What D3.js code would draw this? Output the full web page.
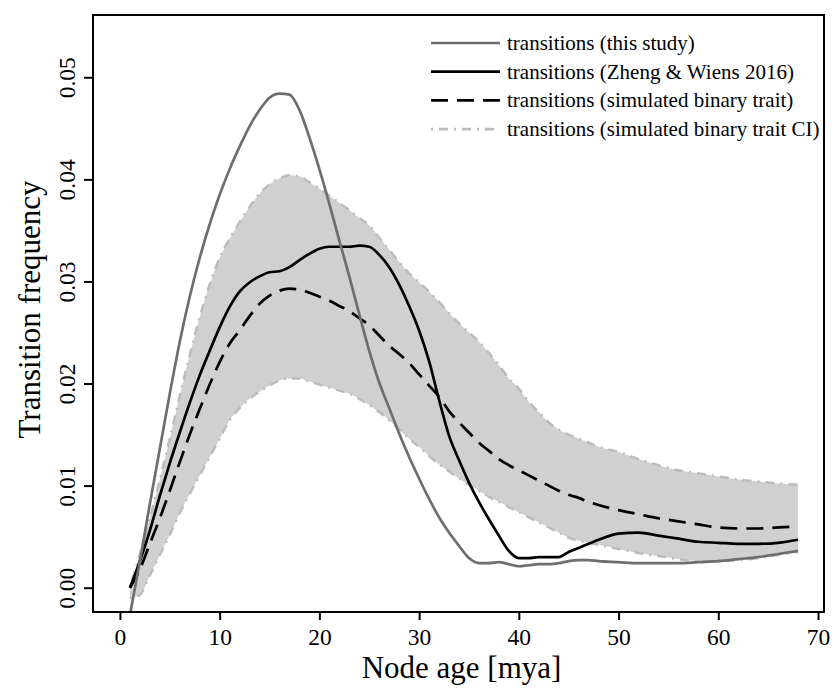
<!DOCTYPE html>
<html>
<head>
<meta charset="utf-8">
<script src="https://cdn.jsdelivr.net/npm/d3@7"></script>
<style>
    body { margin: 0; background: #fff; }
    svg { display: block; font-family: "Liberation Serif", "Times New Roman", serif; }
</style>
</head>
<body>
<svg width="832" height="691"></svg>
<script>

// node ages (mya) at which the curves are sampled
var ages = [1, 2, 3, 4, 5, 6, 7, 8, 9, 10, 11, 12, 13, 14, 15, 16, 17, 18, 19, 20,
    21, 22, 23, 24, 25, 26, 27, 28, 29, 30, 31, 32, 33, 34, 35, 36, 37, 38, 39, 40,
    41, 42, 43, 44, 45, 46, 47, 48, 50, 52, 54, 56, 58, 60, 62, 64, 66, 68];

// transitions (this study)
var thisStudy = [-0.0027, 0.0026, 0.0082, 0.0136, 0.0190, 0.0241, 0.0285, 0.0323, 0.0356, 0.0385,
    0.0410, 0.0432, 0.0452, 0.0468, 0.0480, 0.0484, 0.0483, 0.0468, 0.0441, 0.0410,
    0.0376, 0.0340, 0.0305, 0.0268, 0.0232, 0.0201, 0.0176, 0.0151, 0.0128, 0.0107,
    0.0087, 0.0069, 0.0054, 0.0041, 0.0029, 0.0024, 0.0024, 0.0025, 0.0023, 0.0021,
    0.0022, 0.0023, 0.0023, 0.0024, 0.0026, 0.0027, 0.0027, 0.0026, 0.0025, 0.0024,
    0.0024, 0.0024, 0.0025, 0.0026, 0.0028, 0.0030, 0.0033, 0.0036];

// transitions (Zheng & Wiens 2016)
var zhengWiens = [0.0000, 0.0026, 0.0056, 0.0090, 0.0122, 0.0152, 0.0181, 0.0208, 0.0232, 0.0255,
    0.0275, 0.0290, 0.0299, 0.0305, 0.0309, 0.0310, 0.0314, 0.0321, 0.0327, 0.0332,
    0.0334, 0.0334, 0.0334, 0.0335, 0.0334, 0.0326, 0.0314, 0.0297, 0.0276, 0.0252,
    0.0222, 0.0184, 0.0149, 0.0125, 0.0103, 0.0084, 0.0067, 0.0051, 0.0036, 0.0029,
    0.0029, 0.0030, 0.0030, 0.0030, 0.0035, 0.0039, 0.0043, 0.0047, 0.0053, 0.0054,
    0.0051, 0.0048, 0.0045, 0.0044, 0.0043, 0.0043, 0.0044, 0.0047];

// transitions (simulated binary trait), mean
var simulated = [0.0000, 0.0018, 0.0043, 0.0068, 0.0095, 0.0123, 0.0150, 0.0175, 0.0199, 0.0221,
    0.0239, 0.0252, 0.0266, 0.0278, 0.0286, 0.0291, 0.0293, 0.0292, 0.0289, 0.0285,
    0.0281, 0.0276, 0.0271, 0.0264, 0.0257, 0.0247, 0.0237, 0.0229, 0.0220, 0.0209,
    0.0198, 0.0187, 0.0173, 0.0162, 0.0152, 0.0142, 0.0134, 0.0126, 0.0120, 0.0115,
    0.0110, 0.0105, 0.0100, 0.0095, 0.0091, 0.0088, 0.0084, 0.0081, 0.0076, 0.0072,
    0.0068, 0.0065, 0.0062, 0.0059, 0.0058, 0.0058, 0.0059, 0.0060];

// simulated binary trait CI, upper and lower
var ciUpper = [0.0000, 0.0033, 0.0068, 0.0106, 0.0146, 0.0188, 0.0228, 0.0265, 0.0297, 0.0323,
    0.0342, 0.0358, 0.0373, 0.0386, 0.0395, 0.0401, 0.0404, 0.0403, 0.0397, 0.0391,
    0.0384, 0.0377, 0.0370, 0.0362, 0.0355, 0.0343, 0.0331, 0.0319, 0.0308, 0.0299,
    0.0290, 0.0280, 0.0269, 0.0259, 0.0250, 0.0241, 0.0230, 0.0218, 0.0205, 0.0195,
    0.0182, 0.0172, 0.0162, 0.0155, 0.0150, 0.0146, 0.0142, 0.0138, 0.0133, 0.0126,
    0.0120, 0.0115, 0.0112, 0.0109, 0.0106, 0.0104, 0.0102, 0.0101];

var ciLower = [-0.0010, -0.0007, 0.0012, 0.0032, 0.0052, 0.0073, 0.0092, 0.0110, 0.0128, 0.0146,
    0.0164, 0.0176, 0.0185, 0.0192, 0.0198, 0.0203, 0.0205, 0.0205, 0.0202, 0.0199,
    0.0196, 0.0193, 0.0190, 0.0185, 0.0179, 0.0172, 0.0164, 0.0155, 0.0146, 0.0138,
    0.0129, 0.0121, 0.0114, 0.0107, 0.0101, 0.0095, 0.0089, 0.0084, 0.0079, 0.0074,
    0.0069, 0.0064, 0.0059, 0.0054, 0.0049, 0.0046, 0.0044, 0.0042, 0.0038, 0.0034,
    0.0031, 0.0028, 0.0026, 0.0026, 0.0027, 0.0029, 0.0032, 0.0035];

var xTicks = [0, 10, 20, 30, 40, 50, 60, 70];
var yTicks = [0, 0.01, 0.02, 0.03, 0.04, 0.05];

var legendLabels = [
    "transitions (this study)",
    "transitions (Zheng & Wiens 2016)",
    "transitions (simulated binary trait)",
    "transitions (simulated binary trait CI)"
];

var svg = d3.select("svg"),
    box = {left: 93, top: 15, right: 824, bottom: 612};

// scales
var x = d3.scaleLinear()
    .domain([-2.7, 70.6])
    .range([box.left, box.right]);

var y = d3.scaleLinear()
    .domain([-0.00238, 0.0561])
    .range([box.bottom, box.top]);

// clip to the plotting region
svg.append("clipPath")
    .attr("id", "plotclip")
    .append("rect")
    .attr("x", box.left)
    .attr("y", box.top)
    .attr("width", box.right - box.left)
    .attr("height", box.bottom - box.top);

var plot = svg.append("g").attr("clip-path", "url(#plotclip)");

// CI band
var band = d3.area()
    .x(function (d, i) { return x(ages[i]); })
    .y0(function (d, i) { return y(ciLower[i]); })
    .y1(function (d, i) { return y(ciUpper[i]); })
    .curve(d3.curveMonotoneX);

plot.append("path")
    .datum(ages)
    .attr("d", band)
    .attr("fill", "#d0d0d0");

function lineOf(values) {
    return d3.line()
        .x(function (d, i) { return x(ages[i]); })
        .y(function (d) { return y(d); })
        .curve(d3.curveMonotoneX)(values);
}

// CI borders, dot-dash
[ciUpper, ciLower].forEach(function (v) {
    plot.append("path")
        .attr("d", lineOf(v))
        .attr("fill", "none")
        .attr("stroke", "#bcbcbc")
        .attr("stroke-width", 2.5)
        .attr("stroke-dasharray", "2,6,9,6");
});

// simulated mean, dashed
plot.append("path")
    .attr("d", lineOf(simulated))
    .attr("fill", "none")
    .attr("stroke", "#000")
    .attr("stroke-width", 2.7)
    .attr("stroke-dasharray", "17,9");

// Zheng & Wiens
plot.append("path")
    .attr("d", lineOf(zhengWiens))
    .attr("fill", "none")
    .attr("stroke", "#000")
    .attr("stroke-width", 2.7);

// this study
plot.append("path")
    .attr("d", lineOf(thisStudy))
    .attr("fill", "none")
    .attr("stroke", "#6e6e6e")
    .attr("stroke-width", 2.7);

// x axis
var xAxis = svg.append("g")
    .attr("transform", "translate(0," + box.bottom + ")")
    .call(d3.axisBottom(x).tickValues(xTicks).tickSize(8).tickSizeOuter(0).tickPadding(8));

// y axis, labels turned like R's default
var yAxis = svg.append("g")
    .attr("transform", "translate(" + box.left + ",0)")
    .call(d3.axisLeft(y).tickValues(yTicks).tickSize(9).tickSizeOuter(0).tickFormat(d3.format(".2f")));

[xAxis, yAxis].forEach(function (a) {
    a.select(".domain").remove();
    a.selectAll(".tick line").attr("stroke", "#000").attr("stroke-width", 2);
    a.selectAll(".tick text")
        .attr("fill", "#000")
        .style("font-family", "Liberation Serif")
        .style("font-size", "23.5px");
});

xAxis.selectAll(".tick text").attr("dy", "0.71em");

yAxis.selectAll(".tick text")
    .attr("x", null)
    .attr("dy", null)
    .attr("text-anchor", "middle")
    .attr("transform", "translate(-18,0) rotate(-90)");

// box
svg.append("rect")
    .attr("x", box.left)
    .attr("y", box.top)
    .attr("width", box.right - box.left)
    .attr("height", box.bottom - box.top)
    .attr("fill", "none")
    .attr("stroke", "#000")
    .attr("stroke-width", 2);

// axis titles
svg.append("text")
    .attr("x", (box.left + box.right) / 2 + 3)
    .attr("y", 678)
    .attr("text-anchor", "middle")
    .style("font-size", "31px")
    .text("Node age [mya]");

svg.append("text")
    .attr("transform", "translate(40," + ((box.top + box.bottom) / 2 - 4) + ") rotate(-90)")
    .attr("text-anchor", "middle")
    .style("font-size", "31px")
    .text("Transition frequency");

// legend
var legendStyles = [
    {stroke: "#6e6e6e", dash: null},
    {stroke: "#000", dash: null},
    {stroke: "#000", dash: "17,9"},
    {stroke: "#bcbcbc", dash: "2,6,9,6"}
];

var legend = svg.append("g")
    .selectAll("g")
    .data(legendLabels)
    .enter().append("g")
    .attr("transform", function (d, i) { return "translate(431," + (43 + i * 28.7) + ")"; });

legend.append("line")
    .attr("x1", 0)
    .attr("x2", 69)
    .attr("stroke", function (d, i) { return legendStyles[i].stroke; })
    .attr("stroke-width", 2.7)
    .attr("stroke-dasharray", function (d, i) { return legendStyles[i].dash; });

legend.append("text")
    .attr("x", 76)
    .attr("y", 7)
    .style("font-size", "21px")
    .text(function (d) { return d; });

</script>
</body>
</html>
